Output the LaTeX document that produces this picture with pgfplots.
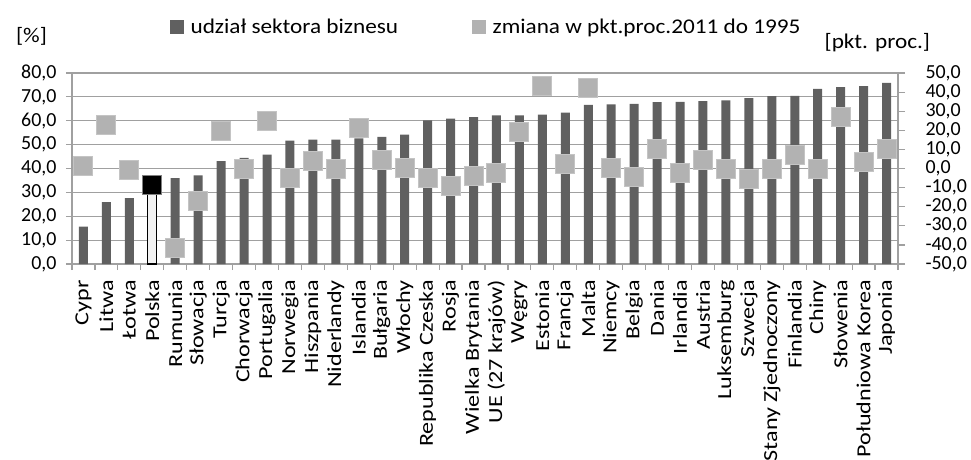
\documentclass[border=0pt]{standalone}
\usepackage{pgfplots}
\pgfplotsset{compat=1.18}
\usepackage{pgfplotstable}
\usepackage{fontspec}
\setmainfont{Carlito}
\newfontfamily\wide[FakeStretch=1.11]{Carlito}
\newfontfamily\xlab[FakeStretch=1.21]{Carlito}
\definecolor{barcol}{HTML}{606060}
\definecolor{mkcol}{HTML}{B2B2B2}
\definecolor{mkedge}{HTML}{C4C4C4}
\definecolor{gridcol}{HTML}{A0A0A0}
\newcommand\fs{\fontsize{20}{24}\selectfont}
\newcommand\fw{\wide\fontsize{21}{25}\selectfont}
\newcommand\fx{\xlab\fontsize{20}{24}\selectfont}
\pgfplotstableread{
idx bar chg
0 15.7 1.3
1 25.9 22.6
2 27.6 -0.8
3 30.1 -8.6
4 36.0 -41.6
5 37.1 -16.8
6 43.1 19.6
7 44.4 -0.3
8 45.8 24.7
9 51.7 -5.1
10 52.1 3.9
11 52.1 -0.3
12 52.6 21.0
13 53.2 4.5
14 54.2 0.4
15 60.2 -5.0
16 60.9 -9.0
17 61.5 -3.8
18 62.3 -2.5
19 62.3 18.9
20 62.6 43.2
21 63.4 2.2
22 66.7 42.0
23 66.9 0.4
24 67.1 -4.5
25 67.8 10.0
26 67.9 -2.5
27 68.2 4.5
28 68.5 -0.3
29 69.5 -5.5
30 70.3 -0.3
31 70.4 7.1
32 73.4 -0.3
33 74.1 27.1
34 74.5 3.6
35 75.9 10.2
}\data
\begin{document}
\begin{tikzpicture}
\useasboundingbox (-72bp,-196bp) rectangle (899bp,264bp);
\begin{axis}[
  scale only axis, width=826bp, height=191bp,
  xmin=-0.5, xmax=35.5, ymin=0, ymax=80,
  axis x line*=bottom, axis y line*=left,
  axis line style={gridcol, line width=1.2bp},
  ytick={0,10,...,80},
  ymajorgrids, grid style={gridcol, line width=1.2bp},
  tick align=outside,
  major tick length=6bp,
  tick style={gridcol, line width=1.2bp},
  xtick={-0.5,0.5,...,35.5}, xticklabels={},
  extra x ticks={0,1,...,35},
  extra x tick labels={Cypr,Litwa,Łotwa,Polska,Rumunia,Słowacja,Turcja,Chorwacja,Portugalia,Norwegia,Hiszpania,Niderlandy,Islandia,Bułgaria,Włochy,Republika Czeska,Rosja,Wielka Brytania,UE (27 krajów),Węgry,Estonia,Francja,Malta,Niemcy,Belgia,Dania,Irlandia,Austria,Luksemburg,Szwecja,Stany Zjednoczony,Finlandia,Chiny,Słowenia,Południowa Korea,Japonia},
  extra x tick style={major tick length=0pt},
  xticklabel style={rotate=90, anchor=east, font=\fx, inner sep=0pt, xshift=-16bp},
  yticklabel style={font=\fs, xshift=-6bp, /pgf/number format/fixed, /pgf/number format/fixed zerofill, /pgf/number format/precision=1, /pgf/number format/use comma, /pgf/number format/assume math mode=true},
  ylabel={[\%]},
  every axis y label/.style={at={(axis description cs:-0.049,1.194)}, anchor=center, font=\fw},
  legend style={draw=none, fill=none, legend columns=2, at={(axis description cs:0.118,1.24)}, anchor=west, inner sep=0pt, nodes={inner sep=3.5bp}, font=\fw, /tikz/every even column/.append style={column sep=70bp}},
  legend cell align=left,
]
\addplot[ybar, bar width=9bp, bar shift=0pt, fill=barcol, draw=none, forget plot] table[x=idx, y=bar]{\data};
\addplot[ybar, bar width=9bp, bar shift=0pt, fill=black!5, draw=black, line width=1.3bp, forget plot] coordinates {(3,30.1)};
\addlegendimage{legend image code/.code={\fill[barcol] (0bp,-6.5bp) rectangle (13bp,6.5bp); \path (17bp,0bp);}}
\addlegendentry{udział sektora biznesu}
\addlegendimage{legend image code/.code={\fill[mkcol] (0bp,-6.5bp) rectangle (13bp,6.5bp); \path (17bp,0bp);}}
\addlegendentry{zmiana w pkt.proc.2011 do 1995}
\end{axis}
\begin{axis}[
  scale only axis, width=826bp, height=191bp,
  xmin=-0.5, xmax=35.5, ymin=-50, ymax=50,
  axis y line*=right, axis x line=none,
  axis line style={gridcol, line width=1.2bp},
  ytick={-50,-40,...,50},
  tick align=outside,
  major tick length=7bp,
  tick style={gridcol, line width=1.2bp},
  yticklabel style={font=\fs, xshift=17bp, /pgf/number format/fixed, /pgf/number format/fixed zerofill, /pgf/number format/precision=1, /pgf/number format/use comma, /pgf/number format/assume math mode=true},
  ylabel={[pkt. proc.]},
  every axis y label/.style={at={(axis description cs:0.975,1.16)}, anchor=center, font=\fw},
]
\addplot[only marks, mark=square*, mark size=9.5bp, mark options={fill=mkcol, draw=mkedge, line width=1bp}] table[x=idx, y=chg]{\data};
\addplot[only marks, mark=square*, mark size=9.5bp, mark options={fill=black, draw=gray, line width=1bp}] coordinates {(3,-8.6)};
\end{axis}
\end{tikzpicture}
\end{document}
